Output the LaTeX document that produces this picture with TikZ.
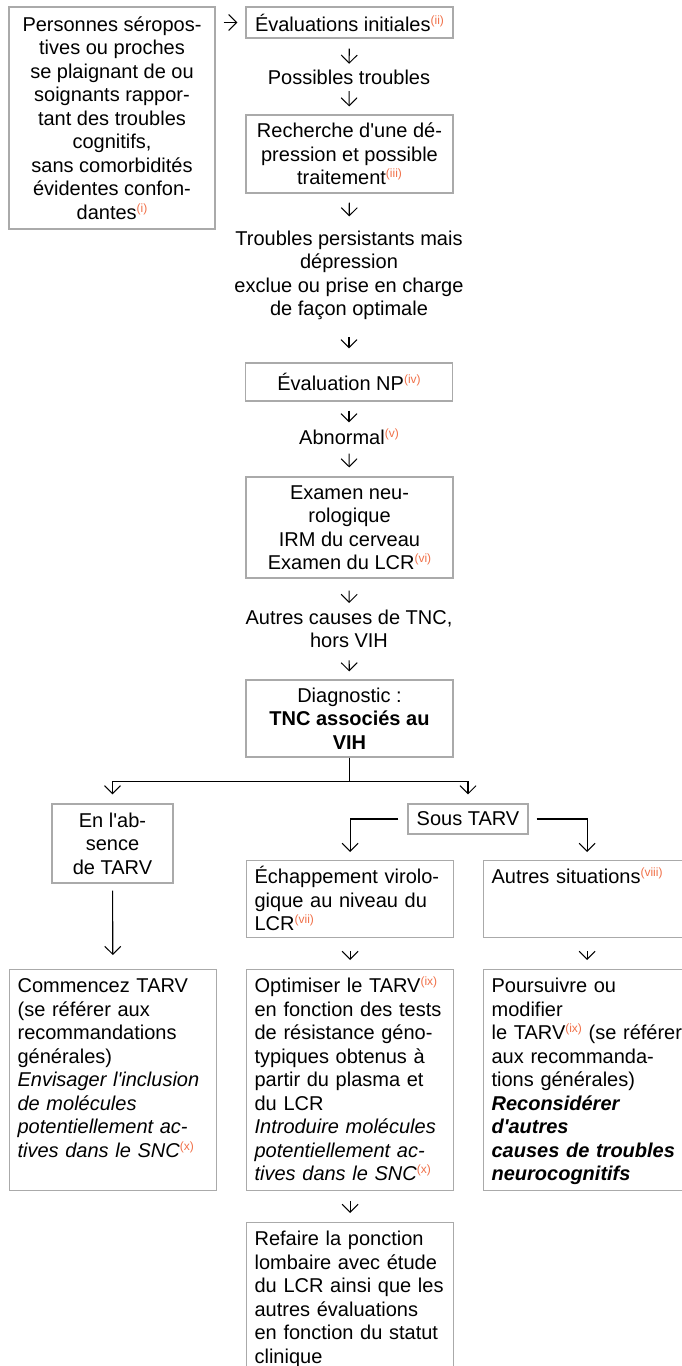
\documentclass[tikz,border=0pt]{standalone}
\usepackage{fontspec}
\setmainfont{Liberation Sans}
\usetikzlibrary{arrows.meta}

\definecolor{bord}{RGB}{170,170,170}
\definecolor{renvoi}{RGB}{240,112,72}
\newcommand\renv[1]{\raisebox{7pt}{\fontsize{12}{12}\selectfont\color{renvoi}(#1)}}

\tikzset{boite/.style  = {draw=bord, line width=1.2pt, align=center, inner sep=0pt,
                          minimum width=#1, font=\fontsize{20}{23.5}\selectfont},
         boite/.default=207pt,
         cadre/.style  = {draw=bord, line width=1.2pt, align=left, anchor=north west,
                          inner sep=8pt, text width=191pt, text height=15pt, text depth=#1,
                          font=\fontsize{20}{23.5}\selectfont},
         cadre/.default=190pt,
         texte/.style  = {align=center, inner sep=0pt, font=\fontsize{20}{23.5}\selectfont},
         fleche/.style = {-{Straight Barb[length=8pt,width=16pt,line width=1pt]}, line width=1.1pt}
        }

\begin{document}
\begin{tikzpicture}[x=1pt, y=-1pt]
  \useasboundingbox (0,0) rectangle (682,1366);
  % colonne du haut
  \node[boite=206pt, minimum height=222pt] (pers) at (112,118)
    {Personnes séropos-\\tives ou proches\\se plaignant de ou\\soignants rappor-\\tant des troubles\\cognitifs,\\sans comorbidités\\évidentes confon-\\dantes\renv{i}};
  \node[boite, minimum height=31pt] (eval) at (349.5,22.5) {Évaluations initiales\renv{ii}};
  \node[texte] (poss) at (349,77) {Possibles troubles};
  \node[boite, minimum height=78pt] (depr) at (349.5,154)
    {Recherche d\textquotesingle une dé-\\pression et possible\\traitement\renv{iii}};
  \node[texte] (pers2) at (349,275.2)
    {Troubles persistants mais\\dépression\\exclue ou prise en charge\\de façon optimale};
  \node[boite, minimum height=38pt] (np) at (349,382) {Évaluation NP\renv{iv}};
  \node[texte] (abn) at (349,437) {Abnormal\renv{v}};
  \node[boite, minimum height=101pt] (exam) at (349.5,527.5)
    {Examen neu-\\rologique\\IRM du cerveau\\Examen du LCR\renv{vi}};
  \node[texte] (autc) at (349,629) {Autres causes de TNC,\\hors VIH};
  \node[boite, minimum height=77pt] (diag) at (349.5,718.5)
    {Diagnostic :\\\textbf{TNC associés au}\\\textbf{VIH}};

  % les branches
  \node[boite=121pt, minimum height=79pt] (abs) at (112.5,843.5)
    {En l\textquotesingle ab-\\sence\\de TARV};
  \node[boite=120pt, minimum height=30pt] (sous) at (468,819) {Sous TARV};
  \node[cadre=46pt] (ech) at (246,860)
    {Échappement virolo-\\gique au niveau du\\LCR\renv{vii}};
  \node[cadre=46pt] (aut) at (483,860) {Autres situations\renv{viii}};

  \node[cadre] (com) at (9,969)
    {Commencez TARV\\(se référer aux\\recommandations\\générales)\\
     \textit{Envisager l\textquotesingle inclusion}\\\textit{de molécules}\\
     \textit{potentiellement ac-}\\\textit{tives dans le SNC}\renv{x}};
  \node[cadre] (opt) at (246,969)
    {Optimiser le TARV\renv{ix}\\en fonction des tests\\de résistance géno-\\typiques obtenus à\\
     partir du plasma et\\du LCR\\\textit{Introduire molécules}\\
     \textit{potentiellement ac-}\\\textit{tives dans le SNC}\renv{x}};
  \node[cadre] (pou) at (483,969)
    {Poursuivre ou\\modifier\\le TARV\renv{ix} (se référer\\aux recommanda-\\tions générales)\\
     \textbf{\textit{Reconsidérer}}\\\textbf{\textit{d\textquotesingle autres}}\\
     \textbf{\textit{causes de troubles}}\\\textbf{\textit{neurocognitifs}}};
  \node[cadre=160pt] (ref) at (246,1222)
    {Refaire la ponction\\lombaire avec étude\\du LCR ainsi que les\\autres évaluations\\
     en fonction du statut\\clinique};

  % fleches
  \draw[fleche, shorten <=8pt, shorten >=8pt] (pers.east |- eval.west) -- (eval.west);
  \draw[fleche, shorten <=10pt, shorten >=5.7pt] (eval) -- (poss);
  \draw[fleche, shorten <=6.7pt, shorten >=8pt] (poss) -- (depr);
  \draw[fleche, shorten <=9pt, shorten >=14pt] (depr) -- (pers2);
  \draw[fleche, shorten <=17pt, shorten >=14pt] (pers2) -- (np);
  \draw[fleche, shorten <=9pt, shorten >=6.5pt] (np) -- (abn);
  \draw[fleche, shorten <=8.5pt, shorten >=9pt] (abn) -- (exam);
  \draw[fleche, shorten <=12pt, shorten >=6.7pt] (exam) -- (autc);
  \draw[fleche, shorten <=12pt, shorten >=8pt] (autc) -- (diag);
  \draw[fleche, shorten >=9pt] (diag.south) -- ++(0,24) -| (abs.north);
  \draw[fleche, shorten >=9pt] (diag.south) -- ++(0,24) -| (sous.north);
  \draw[fleche, shorten <=9pt, shorten >=8pt] (sous.west) -| (ech.north);
  \draw[fleche, shorten <=8pt, shorten >=8pt] (sous.east) -| (aut.north);
  \draw[fleche, shorten <=7pt, shorten >=14pt] (abs) -- (com);
  \draw[fleche, shorten <=13pt, shorten >=9pt] (ech) -- (opt);
  \draw[fleche, shorten <=13pt, shorten >=9pt] (aut) -- (pou);
  \draw[fleche, shorten <=10pt, shorten >=9pt] (opt) -- (ref);
\end{tikzpicture}
\end{document}
